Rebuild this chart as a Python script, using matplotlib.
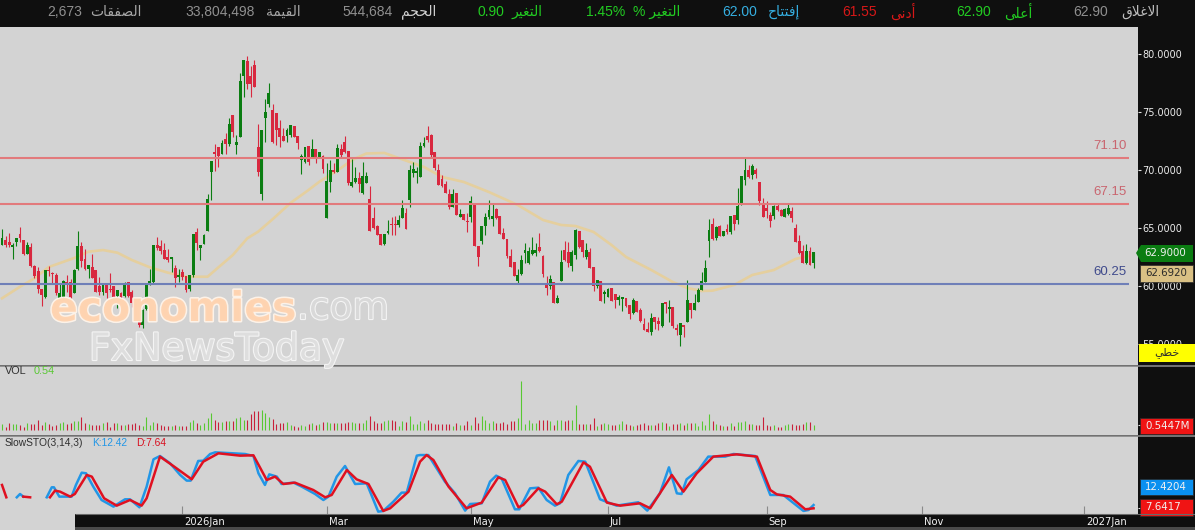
"""Daily candles with MA, volume and slow stochastic, dark terminal style."""
import matplotlib

matplotlib.use("Agg")
import matplotlib.patheffects as pe
import matplotlib.pyplot as plt
import numpy as np
from matplotlib.patches import Polygon, Rectangle
from matplotlib.transforms import ScaledTranslation

nan = float("nan")

opens = [
    63.53, 63.96, 63.73, 63.39, 63.79, 64.4, 63.9, 62.8, 63.3, 61.72,
    61.23, 59.74, 59.08, 61.38, 61.1, 60.95, 59.0, 59.03, 60.28, 60.28,
    59.37, 61.43, 63.45, 62.3, 61.46, 61.6, 61.3, 60.0, 59.5, 60.08,
    59.71, 60.0, 59.13, 59.37, 59.13, 60.28, 59.42, 58.5, 56.85, 56.64,
    57.99, 60.17, 60.37, 63.53, 63.39, 63.1, 62.47, 62.3, 61.5, 60.74,
    61.17, 60.8, 59.74, 60.94, 64.62, 63.3, 63.62, 64.77, 69.85, 71.49,
    71.95, 71.38, 72.67, 72.2, 74.74, 72.18, 72.87, 78.1, 79.33, 78.04,
    78.99, 71.95, 67.93, 74.45, 75.69, 75.17, 74.88, 73.59, 72.87, 72.93,
    73.01, 73.73, 72.87, 70.86, 70.71, 72.0, 71.09, 71.78, 71.09, 71.14,
    65.83, 68.99, 69.94, 69.86, 71.81, 72.36, 71.58, 68.65, 69.0, 69.28,
    67.99, 68.91, 67.5, 65.83, 65.17, 64.4, 63.62, 64.54, 65.34, 65.34,
    65.26, 65.83, 66.26, 67.41, 69.71, 69.71, 69.37, 72.07, 72.93, 73.02,
    71.52, 70.0, 69.2, 68.76, 67.93, 66.84, 67.99, 65.98, 66.2, 65.6,
    65.92, 66.98, 63.45, 63.91, 65.17, 65.92, 65.75, 66.61, 65.98, 64.54,
    64.02, 62.53, 62.01, 60.46, 61.03, 62.87, 61.95, 62.73, 62.82, 63.33,
    62.53, 60.17, 60.03, 60.32, 58.5, 60.43, 63.1, 62.87, 61.72, 62.67,
    64.68, 63.91, 62.53, 62.87, 61.61, 60.0, 60.37, 59.31, 59.02, 59.8,
    59.31, 58.79, 58.91, 58.94, 58.36, 57.7, 58.71, 57.87, 56.72, 56.26,
    56.06, 57.27, 56.93, 56.55, 58.56, 57.99, 58.16, 56.32, 55.78, 56.61,
    56.93, 58.5, 57.93, 58.65, 59.65, 60.37, 63.9, 65.34, 64.1, 65.11,
    64.3, 64.91, 64.62, 66.06, 65.69, 67.07, 69.13, 70.0, 69.57, 70.0,
    68.9, 67.07, 66.69, 66.12, 66.03, 66.89, 66.55, 65.97, 66.2, 66.4,
    64.97, 63.88, 62.96, 61.95, 62.96, 62.0,
]
highs = [
    64.88, 64.3, 64.54, 63.68, 64.1, 65.05, 63.97, 63.76, 63.67, 61.8,
    61.6, 59.74, 61.38, 61.72, 61.18, 61.09, 60.17, 60.5, 60.95, 60.57,
    61.43, 64.77, 63.82, 63.19, 61.8, 62.8, 61.3, 60.8, 60.17, 60.17,
    61.09, 60.0, 59.65, 59.5, 60.37, 60.37, 59.65, 58.6, 56.95, 58.0,
    60.2, 61.46, 63.55, 64.25, 64.0, 63.67, 63.15, 62.5, 61.8, 61.5,
    61.43, 60.8, 60.94, 64.47, 65.0, 63.53, 64.5, 67.93, 70.77, 72.24,
    71.95, 72.58, 73.2, 74.45, 74.74, 73.01, 78.39, 79.5, 79.82, 78.96,
    79.48, 73.96, 73.44, 76.09, 77.47, 75.69, 74.88, 74.3, 73.59, 73.59,
    73.88, 73.79, 72.93, 71.38, 71.95, 72.05, 72.64, 71.78, 71.58, 71.29,
    70.57, 70.86, 70.57, 72.24, 72.24, 72.93, 71.58, 70.92, 70.29, 69.86,
    70.72, 69.86, 68.62, 66.78, 65.26, 64.4, 64.4, 65.69, 65.92, 66.03,
    66.12, 67.41, 66.7, 70.43, 70.72, 70.29, 72.44, 72.82, 73.79, 73.1,
    71.52, 70.52, 69.57, 69.08, 68.33, 68.33, 67.99, 66.61, 66.2, 66.32,
    67.76, 66.98, 63.45, 65.17, 66.26, 67.41, 67.07, 66.7, 66.03, 64.97,
    64.02, 63.16, 62.1, 61.44, 62.67, 63.74, 63.33, 64.25, 63.68, 64.54,
    62.67, 60.86, 60.95, 60.32, 59.22, 63.1, 63.91, 63.82, 63.1, 64.89,
    64.68, 63.97, 63.74, 63.25, 61.61, 60.52, 60.43, 59.66, 59.8, 59.8,
    59.31, 59.22, 59.02, 58.94, 58.36, 58.94, 58.71, 58.07, 57.21, 56.93,
    57.7, 57.36, 57.3, 58.5, 58.65, 58.79, 58.16, 56.72, 56.78, 56.61,
    60.52, 58.5, 59.31, 59.8, 61.23, 62.24, 65.74, 65.83, 65.17, 65.25,
    64.74, 65.34, 65.97, 66.06, 68.47, 69.48, 71.0, 70.43, 70.51, 70.14,
    68.99, 67.55, 67.32, 66.4, 66.98, 67.18, 66.6, 66.69, 67.07, 66.83,
    65.34, 64.39, 63.53, 63.62, 63.39, 62.9,
]
lows = [
    63.53, 63.39, 63.33, 62.3, 63.45, 63.8, 62.67, 62.8, 61.66, 60.72,
    59.37, 58.27, 59.0, 60.89, 60.23, 59.22, 58.9, 59.0, 59.5, 58.95,
    59.37, 61.38, 61.66, 61.38, 60.66, 60.66, 59.5, 59.22, 59.22, 58.93,
    59.5, 58.93, 58.13, 58.93, 59.08, 59.03, 58.22, 57.4, 56.45, 56.35,
    57.9, 60.08, 60.3, 63.1, 62.8, 62.3, 62.09, 61.2, 59.94, 60.37,
    60.5, 59.5, 59.6, 60.8, 63.1, 62.2, 63.6, 64.77, 67.4, 69.94,
    70.28, 71.38, 71.38, 72.06, 72.87, 71.38, 72.87, 76.3, 77.0, 76.3,
    77.18, 69.48, 67.4, 72.44, 75.45, 72.3, 72.15, 71.95, 72.52, 72.44,
    72.81, 72.81, 71.78, 69.65, 70.57, 70.43, 71.0, 70.57, 71.0, 69.7,
    65.83, 68.13, 69.7, 69.86, 71.0, 71.44, 68.71, 68.56, 68.91, 68.13,
    67.93, 68.85, 64.77, 64.88, 64.4, 63.53, 63.53, 64.48, 64.4, 64.4,
    65.11, 65.83, 64.91, 66.84, 69.42, 68.85, 69.37, 72.01, 72.44, 71.15,
    70.0, 68.71, 68.56, 67.99, 66.61, 66.78, 66.12, 65.92, 65.69, 64.68,
    65.55, 63.45, 61.72, 63.62, 64.4, 65.75, 65.17, 65.75, 64.48, 64.02,
    62.38, 61.67, 60.86, 60.23, 60.95, 61.95, 61.9, 62.67, 62.59, 62.96,
    60.75, 59.22, 59.71, 58.5, 58.5, 60.43, 62.18, 61.67, 61.32, 62.3,
    63.25, 62.47, 62.3, 61.52, 59.6, 59.8, 58.71, 58.5, 59.02, 58.71,
    58.08, 58.36, 57.87, 58.16, 57.13, 57.59, 57.79, 56.93, 56.2, 56.0,
    55.78, 56.26, 56.2, 56.49, 57.64, 56.93, 56.35, 55.78, 54.83, 55.63,
    56.93, 57.21, 57.93, 58.65, 59.65, 60.37, 62.47, 63.96, 64.0, 64.3,
    64.3, 64.48, 64.48, 64.82, 65.34, 66.98, 68.7, 69.28, 69.19, 69.28,
    66.98, 65.92, 65.83, 65.05, 65.77, 66.46, 66.03, 65.92, 66.12, 65.54,
    63.76, 62.75, 61.95, 61.89, 61.8, 61.55,
]
closes = [
    64.1, 63.53, 63.56, 63.53, 64.1, 64.16, 62.73, 63.53, 61.75, 60.86,
    59.74, 59.22, 61.38, 61.26, 61.0, 59.37, 59.37, 60.43, 60.17, 59.03,
    61.3, 63.39, 62.15, 61.46, 61.8, 60.66, 59.5, 59.5, 60.17, 59.42,
    59.65, 59.03, 59.65, 59.03, 60.08, 59.13, 58.5, 57.5, 56.6, 57.93,
    60.17, 60.37, 63.53, 63.25, 63.0, 62.32, 62.24, 62.47, 60.66, 60.94,
    60.8, 59.65, 60.94, 64.45, 63.73, 63.47, 64.39, 67.47, 70.77, 71.35,
    71.2, 72.3, 72.24, 73.96, 73.3, 72.41, 77.61, 79.48, 77.38, 77.38,
    77.18, 69.85, 73.44, 74.97, 76.6, 72.44, 73.44, 72.81, 72.52, 73.44,
    73.82, 72.81, 72.35, 71.2, 71.95, 70.71, 71.78, 71.09, 71.49, 70.05,
    68.99, 69.99, 69.85, 71.87, 71.29, 71.58, 68.85, 68.94, 69.28, 68.79,
    69.48, 69.48, 64.77, 64.97, 64.4, 63.53, 64.4, 64.74, 65.26, 65.26,
    65.69, 66.7, 64.91, 70.0, 70.06, 69.86, 72.07, 72.3, 72.59, 71.29,
    70.14, 68.71, 68.65, 68.05, 66.78, 67.93, 66.12, 66.2, 65.69, 65.49,
    67.27, 63.45, 62.53, 65.17, 65.92, 66.49, 65.98, 65.83, 64.48, 64.02,
    62.59, 61.67, 60.86, 60.95, 62.18, 63.1, 62.96, 63.1, 63.05, 63.05,
    61.0, 59.86, 60.58, 58.5, 58.94, 62.01, 62.24, 61.95, 62.87, 64.83,
    63.33, 62.96, 63.1, 61.58, 60.03, 60.46, 58.71, 59.43, 59.74, 58.71,
    58.79, 58.99, 59.02, 58.28, 57.59, 58.79, 57.79, 57.01, 56.2, 56.06,
    57.21, 56.93, 56.72, 58.5, 58.45, 58.16, 56.55, 56.2, 56.78, 56.5,
    58.79, 57.93, 58.5, 59.6, 60.43, 61.52, 64.82, 64.02, 65.05, 64.3,
    64.74, 64.62, 65.97, 65.34, 66.83, 69.48, 70.0, 69.42, 70.28, 69.65,
    67.35, 65.97, 66.46, 65.63, 66.83, 66.55, 66.03, 66.6, 66.69, 65.83,
    63.76, 62.81, 62.0, 62.96, 61.8, 62.9,
]
volumes = [
    0.72, 0.4, 0.8, 0.72, 0.72, 0.6, 0.4, 0.8, 0.72, 0.72,
    1.2, 0.6, 1.0, 0.72, 0.48, 0.6, 0.8, 1.0, 0.72, 0.88,
    1.12, 1.12, 1.6, 0.88, 0.72, 0.6, 0.6, 0.6, 0.8, 1.0,
    0.32, 0.8, 0.8, 0.6, 0.6, 0.72, 0.72, 0.8, 0.6, 0.48,
    1.52, 0.6, 0.96, 0.8, 0.6, 0.48, 0.48, 0.48, 0.6, 0.48,
    0.48, 0.48, 1.0, 1.2, 0.8, 0.6, 0.88, 1.4, 2.0, 1.2,
    1.0, 1.0, 1.12, 1.12, 1.12, 1.4, 1.52, 1.2, 1.2, 1.92,
    2.32, 2.32, 2.4, 2.0, 1.52, 1.28, 0.72, 0.88, 0.8, 1.0,
    0.6, 0.48, 0.4, 0.6, 0.48, 0.72, 0.8, 0.6, 0.72, 1.0,
    1.0, 0.88, 0.88, 0.88, 0.88, 0.88, 1.0, 1.0, 0.8, 0.88,
    0.88, 1.2, 1.68, 1.12, 0.88, 0.8, 1.12, 1.2, 1.2, 1.12,
    0.48, 1.12, 1.0, 1.68, 0.72, 0.72, 1.12, 0.8, 1.2, 0.88,
    0.72, 0.72, 0.72, 0.72, 0.72, 0.48, 0.88, 0.6, 0.6, 1.12,
    0.6, 1.6, 0.8, 1.68, 1.2, 0.88, 1.12, 0.8, 0.88, 1.0,
    0.72, 1.12, 1.12, 1.4, 5.92, 0.72, 1.2, 0.88, 0.8, 1.2,
    1.2, 1.2, 1.12, 0.6, 1.2, 1.2, 1.12, 1.2, 1.2, 3.0,
    0.72, 0.72, 0.72, 0.72, 1.4, 0.48, 0.72, 0.8, 0.72, 0.6,
    0.6, 0.72, 1.12, 0.72, 0.6, 0.48, 0.6, 0.72, 0.8, 0.6,
    0.6, 0.6, 0.8, 1.0, 0.88, 0.48, 0.72, 0.72, 0.8, 0.6,
    0.8, 0.8, 0.8, 0.48, 1.12, 0.6, 1.92, 1.12, 0.72, 0.6,
    0.48, 0.48, 0.8, 0.48, 1.0, 1.0, 1.12, 0.72, 0.72, 0.6,
    0.6, 1.6, 0.6, 0.48, 0.6, 0.32, 0.32, 0.6, 0.72, 0.72,
    0.6, 0.6, 0.72, 1.0, 1.0, 0.5447,
]

ma_days = [
    0, 5, 9, 13, 20, 24, 28, 32, 36, 41, 46, 51, 57, 60, 64, 68, 71, 75, 80,
    85, 88, 94, 97, 101, 106, 110, 117, 122, 128, 135, 143, 150, 155, 159,
    164, 169, 173, 180, 186, 190, 194, 197, 203, 208, 214, 220, 225,
]
ma_vals = [
    58.94, 59.94, 60.66, 61.64, 62.41, 62.96, 63.1, 62.87, 62.24, 61.61,
    61.15, 60.8, 60.8, 61.61, 62.67, 64.11, 64.68, 65.75, 67.16, 68.28,
    68.99, 70.17, 70.86, 71.42, 71.47, 71.03, 70.26, 69.4, 68.97, 68.1,
    66.98, 65.69, 65.26, 65.17, 64.66, 63.53, 62.5, 61.38, 60.34, 59.83,
    59.57, 59.6, 60.09, 60.95, 61.38, 62.33, 62.69,
]

k_days = [
    4.1, 5, 5.9, nan, 12.4, 13.8, 14.4, 15.9, 19.3, 20.5, 22.1, 23.3, 25.3,
    27.6, 30.9, 34.1, 35.5, 38.1, 40.1, 42, 43.8, 46.6, 49.4, 51.2, 52.3,
    54.4, 55.8, 57.7, 59.1, 64.1, 67.4, 69.7, 71.1, 72.9, 74.1, 76.2, 77.5,
    80.8, 83.1, 86.8, 89.1, 90.5, 92.8, 95.1, 97.9, 101.1, 104.3, 105.7,
    108.5, 110.8, 112.2, 115, 115.9, 118.2, 122.8, 125.6, 128.4, 129.8, 133,
    135.3, 137, 138.5, 142.2, 143.4, 146.4, 148.7, 151, 153.3, 154.7, 157,
    159.8, 161.7, 165.8, 170.4, 176.4, 178.9, 182.4, 184.9, 187.1, 188.4,
    189.8, 193.1, 195.8, 200.5, 202.8, 208.8, 213, 216.6, 222.2, 223.6, 225,
]
k_vals = [
    23.6, 28.4, 24.6, nan, 23.6, 38.1, 38.1, 24.6, 24.6, 41.5, 59.3, 58.4,
    39.1, 19.7, 10.1, 20.7, 20.7, 9.1, 39.1, 78.7, 83.5, 72.9, 56, 47.8,
    47.8, 76.3, 76.7, 86.4, 88.8, 87.4, 86.4, 83.5, 58.4, 41.5, 56.9, 53.6,
    42.9, 44.9, 39.1, 28.4, 19.7, 24.6, 53.6, 69, 42.9, 43.9, 2.8, 3.8,
    17.3, 30.4, 30.4, 84, 84.9, 84.9, 46.3, 29.4, 4.3, 13.9, 14.9, 46.3,
    55, 51.1, 6.2, 6.2, 36.6, 37.6, 19.7, 11.5, 14.9, 56, 76.3, 75.3, 20.7,
    11.5, 16.4, 4.3, 29.4, 67.1, 29.4, 28.4, 49.7, 63.2, 82.6, 82.6, 86.4,
    83.5, 27, 27, 3.8, 5.2, 12.42,
]
d_days = [
    0, 1.2, nan, 5.9, 7.8, nan, 13.3, 14.7, 16.1, 18.9, 20.2, 23.5, 24.9,
    28.3, 31.8, 35.5, 38.7, 40.1, 43.8, 47.5, 52.6, 55.8, 60, 66, 69.7, 73.4,
    75.7, 78, 81.2, 86.3, 89.6, 91.4, 95.6, 98.3, 101.6, 105.7, 107.6, 112.7,
    115.9, 117.7, 119.6, 123.8, 126.1, 128.8, 133, 137.6, 139.5, 143.2,
    144.5, 148.7, 150.6, 153.8, 155.2, 161.2, 163, 167.7, 171.4, 176.9,
    179.7, 185.7, 188.9, 192.6, 197.2, 203.7, 209.3, 213, 214.8, 218.5,
    222.7, 225,
]
d_vals = [
    41.5, 23.6, nan, 24.6, 23.6, nan, 23.6, 33.3, 31.8, 24.6, 28.4, 56, 53.6,
    22.2, 11.5, 19.7, 11.5, 22.2, 82.6, 69, 49.7, 75.3, 87.4, 84, 84.5, 48.7,
    53.6, 42.9, 44.9, 34.2, 23.6, 27, 63.2, 49.7, 42.9, 3.8, 7.7, 31.8,
    75.3, 84.9, 77.7, 39.1, 24.6, 7.7, 15.9, 52.6, 48.7, 9.1,
    12.5, 36.6, 31.8, 13.5, 17.3, 74.3, 68, 15.9, 11.5, 14.9,
    7.7, 56, 31.8, 58.4, 82.6, 85.9, 82.6, 34.2, 27.9, 24.6,
    6.2, 7.64,
]

level_lines = [71.03, 67.07, 60.17]
level_labels = ["71.10", "67.15", "60.25"]
level_colors = ["#e27a7c", "#e27a7c", "#6f7fb8"]
level_text_colors = ["#c9656f", "#c9656f", "#3f4a8c"]
price_ticks = [55, 60, 65, 70, 75, 80]
month_days = [50, 90, 130, 168, 212, 255, 300]
month_labels = ["2026Jan", "Mar", "May", "Jul", "Sep", "Nov", "2027Jan"]

# label, value, colour of label, colour of value, right edge of label, right edge of value
header = [
    ("الاغلاق", "62.90", "#bdbdbd", "#8f8f8f", 1159, 1108),
    ("أعلى", "62.90", "#22cc22", "#22cc22", 1032, 991),
    ("أدنى", "61.55", "#d61818", "#d61818", 916, 877),
    ("إفتتاح", "62.00", "#35aee0", "#35aee0", 800, 757),
    ("التغير", "1.45%", "#22cc22", "#22cc22", 680, 625),
    ("التغير", "0.90", "#22cc22", "#22cc22", 543, 504),
    ("الحجم", "544,684", "#d0d0d0", "#8f8f8f", 436, 393),
    ("القيمة", "33,804,498", "#a8a8a8", "#8f8f8f", 301, 255),
    ("الصفقات", "2,673", "#a8a8a8", "#8f8f8f", 142, 82),
]

W, H = 1195, 530
PANEL_RIGHT = 1138
STEP = 3.607  # pixels per session
GREY, BLACK = "#d3d3d3", "#0f0f0f"
UP, DOWN = "#0b7d12", "#d8283f"
VOL_UP, VOL_DOWN = "#58c832", "#c8203a"
FONT = ["Liberation Sans", "DejaVu Sans"]

FORMS = {
    "ا": (0xFE8D, 0xFE8E), "أ": (0xFE83, 0xFE84), "إ": (0xFE87, 0xFE88),
    "د": (0xFEA9, 0xFEAA), "ر": (0xFEAD, 0xFEAE), "ى": (0xFEEF, 0xFEF0),
    "ة": (0xFE93, 0xFE94), "ل": (0xFEDD, 0xFEDE, 0xFEDF, 0xFEE0),
    "غ": (0xFECD, 0xFECE, 0xFECF, 0xFED0), "ق": (0xFED5, 0xFED6, 0xFED7, 0xFED8),
    "ع": (0xFEC9, 0xFECA, 0xFECB, 0xFECC), "ن": (0xFEE5, 0xFEE6, 0xFEE7, 0xFEE8),
    "ف": (0xFED1, 0xFED2, 0xFED3, 0xFED4), "ت": (0xFE95, 0xFE96, 0xFE97, 0xFE98),
    "ح": (0xFEA1, 0xFEA2, 0xFEA3, 0xFEA4), "ي": (0xFEF1, 0xFEF2, 0xFEF3, 0xFEF4),
    "ج": (0xFE9D, 0xFE9E, 0xFE9F, 0xFEA0), "م": (0xFEE1, 0xFEE2, 0xFEE3, 0xFEE4),
    "ص": (0xFEB9, 0xFEBA, 0xFEBB, 0xFEBC), "خ": (0xFEA5, 0xFEA6, 0xFEA7, 0xFEA8),
    "ط": (0xFEC1, 0xFEC2, 0xFEC3, 0xFEC4),
}


def arabic(word):
    # matplotlib has no bidi or shaping, so pick the joined forms and reverse
    out = []
    i = 0
    joined = False
    while i < len(word):
        ch = word[i]
        if ch == "ل" and i + 1 < len(word) and word[i + 1] == "ا":
            out.append(chr(0xFEFC if joined else 0xFEFB))
            joined = False
            i += 2
            continue
        forms = FORMS[ch]
        can_next = len(forms) == 4 and i + 1 < len(word)
        if joined and can_next:
            out.append(chr(forms[3]))
        elif joined:
            out.append(chr(forms[1]))
        elif can_next:
            out.append(chr(forms[2]))
        else:
            out.append(chr(forms[0]))
        joined = can_next
        i += 1
    return "".join(reversed(out))


def panel(top, bottom):
    ax = fig.add_axes([0, 1 - bottom / H, PANEL_RIGHT / W, (bottom - top) / H])
    ax.set_facecolor(GREY)
    for side in ax.spines.values():
        side.set_visible(False)
    ax.set_xlim(-2 / STEP, (PANEL_RIGHT - 2) / STEP)
    ax.yaxis.tick_right()
    ax.set_xticks([])
    ax.tick_params(axis="y", direction="out", length=2.5, width=0.8, color="#e0e0e0",
                   labelcolor="#ececec", labelsize=7, pad=0.5)
    return ax


def tag(y0, y1, face, label, color="#f0f0f0", left=1140):
    over.add_patch(Rectangle((left, y0), 1193 - left, y1 - y0, fc=face, ec="#2a2a2a", lw=0.5))
    over.text(1145, (y0 + y1) / 2, label, color=color, fontsize=7.4, family="DejaVu Sans",
              va="center", ha="left")


fig = plt.figure(figsize=(W / 100, H / 100), dpi=100, facecolor=BLACK)
days = np.arange(len(closes))
o, h, l, c = map(np.array, (opens, highs, lows, closes))
rising = c >= o
colors = np.where(rising, UP, DOWN)

ax = panel(27, 365)
ax.set_ylim(80 - (365 - 54) / 11.6, 80 + (54 - 27) / 11.6)
ax.plot(ma_days, ma_vals, color="#e5cf9e", lw=1.9, zorder=1)
ax.vlines(days, l, h, colors=colors, lw=0.8, zorder=2)
ax.bar(days, np.abs(c - o) + 0.04, bottom=np.minimum(o, c), width=0.8, color=colors, lw=0, zorder=3)
line_end = (1129 - 2) / STEP
ax.hlines(level_lines, ax.get_xlim()[0], line_end, colors=level_colors, lw=1.5, zorder=4)
for lvl, lab, col in zip(level_lines, level_labels, level_text_colors):
    ax.annotate(lab, (line_end, lvl), xytext=(-2, 4), textcoords="offset points", ha="right",
                va="bottom", color=col, fontsize=9.5, family=FONT)
ax.set_yticks(price_ticks, [f"{p:.4f}" for p in price_ticks])

vol = panel(366, 435)
vol.set_ylim(-0.6, 7.68)
vol.vlines(days, 0, volumes, colors=np.where(rising, VOL_UP, VOL_DOWN), lw=0.8)
vol.set_yticks([volumes[-1]], [""])

sto = panel(436, 514)
sto.set_ylim(-0.6, 112.5)
sto.plot(k_days, k_vals, color="#2296e6", lw=1.8)
sto.plot(d_days, d_vals, color="#e01020", lw=1.8)
sto.set_yticks([d_vals[-1]], [""])
sto.set_xticks(month_days, month_labels, family="DejaVu Sans")
sto.tick_params(axis="x", direction="in", length=6, width=0.8, color="#8a8a8a",
                labelcolor="#f0f0f0", labelsize=7.2, pad=2)
shift = ScaledTranslation(2 / 100, 0, fig.dpi_scale_trans)
for lab in sto.get_xticklabels():
    lab.set_ha("left")
    lab.set_transform(lab.get_transform() + shift)

# pixel-space layer for the header, tags and watermark
over = fig.add_axes([0, 0, 1, 1], facecolor="none")
over.set_xlim(0, W)
over.set_ylim(H, 0)
over.axis("off")
over.add_patch(Rectangle((0, 514), 75, 16, fc=GREY, lw=0))
over.add_patch(Rectangle((75, 527), W - 75, 3, fc="#4a4a4a", lw=0))
over.hlines([365.5, 435.5], 0, W, colors="#858585", lw=1.2)
over.hlines(514, 75, W, colors="#6a6a6a", lw=0.8)

for word, value, wcol, vcol, wx, vx in header:
    shaped = arabic(word)
    if value == "1.45%":
        shaped = "% " + shaped
    over.text(wx, 12, shaped, color=wcol, fontsize=10, family=FONT, ha="right", va="center")
    over.text(vx, 12, value, color=vcol, fontsize=10, family=FONT, ha="right", va="center")

over.text(5, 371.5, "VOL", color="#303030", fontsize=7.8, family=FONT, va="center")
over.text(34, 371.5, "0.54", color="#58c832", fontsize=7.8, family=FONT, va="center")
over.text(5, 443, "SlowSTO(3,14,3)", color="#303030", fontsize=7.4, family=FONT, va="center")
over.text(92, 443, "K:12.42", color="#2296e6", fontsize=7.4, family=FONT, va="center")
over.text(136, 443, "D:7.64", color="#d81020", fontsize=7.4, family=FONT, va="center")

wm_peach = [pe.withStroke(linewidth=2.2, foreground="#fff4ea")]
wm_white = [pe.withStroke(linewidth=1.6, foreground="#f4f4f4")]
over.text(50, 310, "economies", color="#ffd3b0", fontsize=29.5, family="DejaVu Sans",
          weight="bold", va="center", path_effects=wm_peach, alpha=0.95)
over.text(297, 309, ".com", color="#d9d9d9", fontsize=27, family="DejaVu Sans",
          va="center", path_effects=wm_white)
over.text(89, 350, "FxNewsToday", color="#dedede", fontsize=27.2, family="DejaVu Sans",
          va="center", path_effects=wm_white)

over.add_patch(Polygon([(1136, 253), (1141, 245), (1193, 245), (1193, 262), (1141, 262)],
                       fc="#0b7d12", lw=0))
over.text(1144, 253.5, "62.9000", color="#f0f0f0", fontsize=7.4, family="DejaVu Sans", va="center")
tag(265, 282, "#d9c084", "62.6920", color="#2a2a2a")
tag(418, 434, "#f01414", "0.5447M")
tag(479, 495, "#0a90f0", "12.4204")
tag(499, 516, "#f01414", "7.6417")
over.add_patch(Rectangle((1139, 344), 56, 18, fc="#ffff00", lw=0))
over.text(1167, 353, arabic("خطي"), color="#303030", fontsize=8, family=FONT, ha="center", va="center")

fig.savefig("out.png", dpi=100, facecolor=BLACK)
